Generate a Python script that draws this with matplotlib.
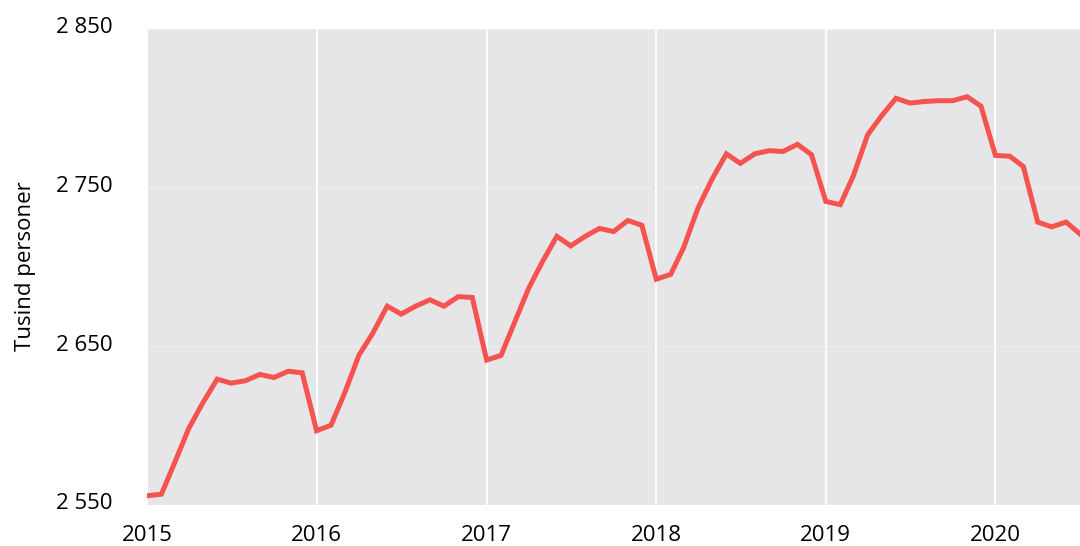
import matplotlib
matplotlib.use("Agg")
import matplotlib.pyplot as plt
import matplotlib.transforms as mtransforms
import pandas as pd

plt.rcParams['font.family'] = ['Open Sans', 'DejaVu Sans']

months = pd.date_range("2015-01-01", "2020-07-01", freq="MS")
values = [
    2555.5, 2556.5, 2576, 2598, 2614, 2629, 2626.5, 2628, 2632, 2630, 2634, 2633,
    2596.5, 2600, 2620, 2644, 2658, 2675, 2670, 2675, 2679, 2675, 2681, 2680.5,
    2641, 2644, 2664, 2686, 2703, 2719, 2713, 2719, 2724, 2722, 2729, 2726,
    2692, 2695, 2712, 2737, 2755, 2771, 2765, 2771, 2773, 2772.5, 2777, 2770.5,
    2741, 2739, 2757, 2783, 2795, 2806, 2803, 2804, 2804.5, 2804.5, 2807, 2801,
    2770, 2769.5, 2763, 2728, 2725, 2728, 2720.5,
]
y_ticks = [2550, 2650, 2750, 2850]
y_tick_labels = ["2 550", "2 650", "2 750", "2 850"]
x_ticks = pd.to_datetime(["2015-01-01", "2016-01-01", "2017-01-01",
                          "2018-01-01", "2019-01-01", "2020-01-01"])
x_tick_labels = ["2015", "2016", "2017", "2018", "2019", "2020"]
y_label = "Tusind personer"

fig = plt.figure(figsize=(10.8, 5.46), dpi=100)
ax = fig.add_axes([147/1080, 1 - 504.5/546, 1 - 147/1080, (504.5 - 28.5)/546])
ax.set_facecolor('#E6E6E8')

ax.plot(months, values, color='#F55250', lw=3.6, solid_joinstyle='miter', zorder=3)

ax.set_xlim(months[0], months[-1])
ax.set_ylim(2550, 2850)

ax.set_xticks(x_ticks)
ax.set_xticklabels(x_tick_labels, fontsize=16)
ax.set_yticks(y_ticks)
ax.set_yticklabels([])

ax.tick_params(axis='both', length=0, colors='black')
ax.tick_params(axis='x', pad=15)

# y tick labels: right-aligned, baseline slightly below gridline
ytrans = mtransforms.blended_transform_factory(ax.transAxes, ax.transData) + \
    mtransforms.ScaledTranslation(-34/100, -4.8/100, fig.dpi_scale_trans)
for yv, lab in zip(y_ticks, y_tick_labels):
    ax.text(0, yv, lab, transform=ytrans, ha='right', va='baseline',
            fontsize=16, clip_on=False)

ax.grid(axis='x', color='white', lw=1.3, ls='-')
ax.grid(axis='y', color='#F3F3F4', lw=0.8, ls=(0, (4, 2)))
ax.set_axisbelow(True)

for s in ax.spines.values():
    s.set_visible(False)

ax.set_ylabel(y_label, fontsize=16)
ax.yaxis.set_label_coords(-111/933, 0.5)

fig.savefig("out.png", dpi=100)
